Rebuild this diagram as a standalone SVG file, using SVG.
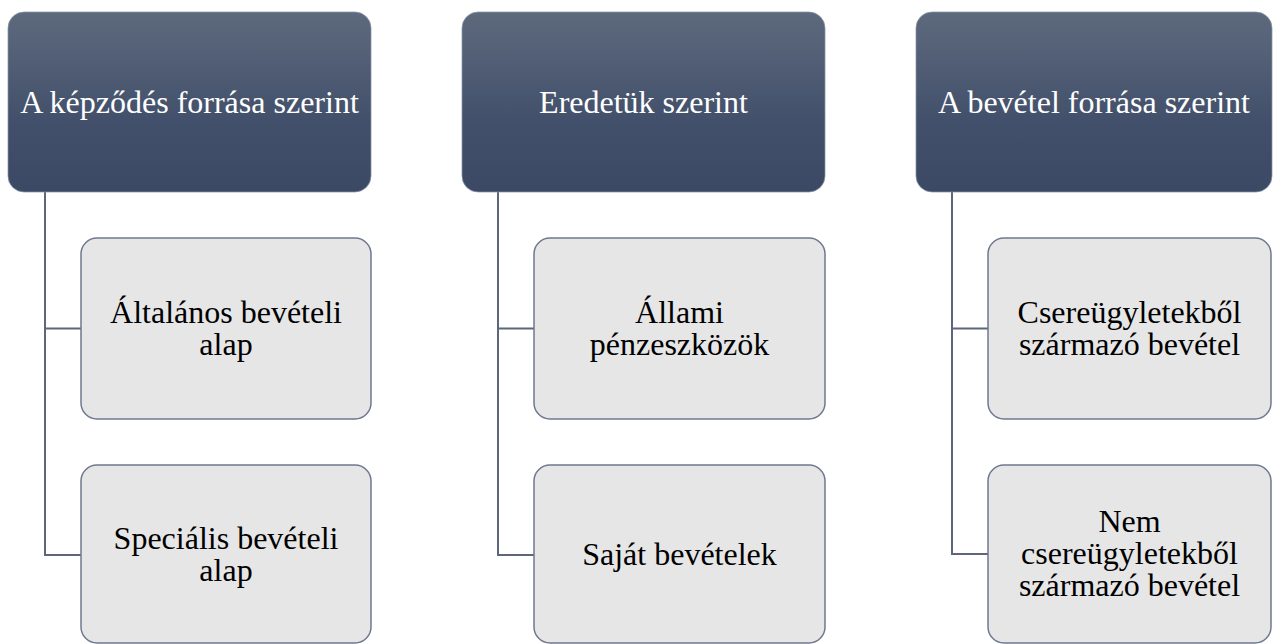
<svg xmlns="http://www.w3.org/2000/svg" width="1273" height="644" viewBox="0 0 1273 644">
<defs>
<linearGradient id="hg" x1="0" y1="0" x2="0" y2="1">
<stop offset="0" stop-color="#5d6a7d"/>
<stop offset="0.6" stop-color="#43506b"/>
<stop offset="1" stop-color="#3b4965"/>
</linearGradient>
<style>
.hdr{fill:url(#hg);stroke:#8a93a5;stroke-width:0.75}
.kid{fill:#e6e6e6;stroke:#6f7890;stroke-width:1.5}
.ht{font-family:"Liberation Serif","Times New Roman",serif;font-size:32px;fill:#ffffff;text-anchor:middle}
.kt{font-family:"Liberation Serif","Times New Roman",serif;font-size:32px;fill:#000000;text-anchor:middle}
.con{fill:none;stroke:#5e6679;stroke-width:2}
</style>
</defs>
<rect width="1273" height="644" fill="#ffffff"/>
<g id="connectors">
<path class="con" d="M45,192 V555 H81 M45,328.5 H81"/>
<path class="con" d="M498,192 V555 H534 M498,328.5 H534"/>
<path class="con" d="M952,192 V554 H988 M952,328.5 H988"/>
</g>
<g id="h1"><rect class="hdr" x="8" y="12" width="363" height="180" rx="16"/><text class="ht" x="189.5" y="112.5">A képződés forrása szerint</text></g>
<g id="h2"><rect class="hdr" x="462" y="12" width="363" height="180" rx="16"/><text class="ht" x="643.5" y="112.5">Eredetük szerint</text></g>
<g id="h3"><rect class="hdr" x="916" y="12" width="356" height="180" rx="16"/><text class="ht" x="1094" y="112.5">A bevétel forrása szerint</text></g>
<g id="c11"><rect class="kid" x="81" y="238" width="290" height="181" rx="16"/><text class="kt" x="226" y="323">Általános bevételi<tspan x="226" y="355">alap</tspan></text></g>
<g id="c12"><rect class="kid" x="81" y="465" width="290" height="178" rx="16"/><text class="kt" x="226" y="549">Speciális bevételi<tspan x="226" y="581">alap</tspan></text></g>
<g id="c21"><rect class="kid" x="534" y="238" width="291" height="181" rx="16"/><text class="kt" x="679.5" y="323">Állami<tspan x="679.5" y="355">pénzeszközök</tspan></text></g>
<g id="c22"><rect class="kid" x="534" y="465" width="291" height="178" rx="16"/><text class="kt" x="679.5" y="565">Saját bevételek</text></g>
<g id="c31"><rect class="kid" x="988" y="238" width="283" height="181" rx="16"/><text class="kt" x="1129.5" y="323">Csereügyletekből<tspan x="1129.5" y="355">származó bevétel</tspan></text></g>
<g id="c32"><rect class="kid" x="988" y="465" width="283" height="178" rx="16"/><text class="kt" x="1129.5" y="532">Nem<tspan x="1129.5" y="564">csereügyletekből</tspan><tspan x="1129.5" y="596">származó bevétel</tspan></text></g>
</svg>
